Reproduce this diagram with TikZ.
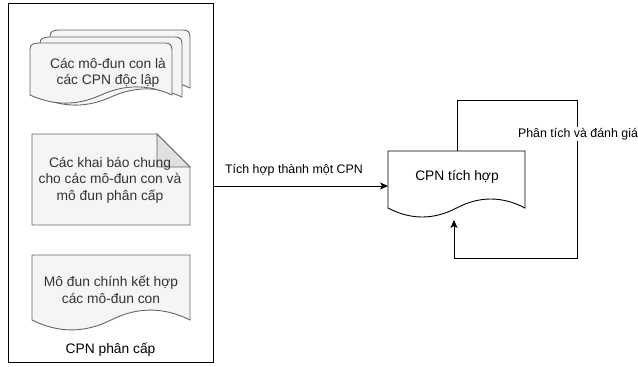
\documentclass[tikz,border=0pt]{standalone}
\usepackage{fontspec}
\setmainfont{Liberation Sans}
\usetikzlibrary{arrows.meta,calc}

\definecolor{sheetfill}{HTML}{F5F5F5}
\definecolor{sheetline}{HTML}{666666}
\definecolor{foldfill}{HTML}{E0E0E0}
\definecolor{txtgray}{HTML}{333333}

% Document outline with a wavy bottom edge: #2,#3 top-left, #4 width, #5 height, #6 wave depth
\newcommand{\wavedoc}[6][]{%
  \draw[#1] ({#2},{#3+#5-#6/2}) -- ({#2},{#3}) -- ({#2+#4},{#3}) -- ({#2+#4},{#3+#5-#6/2})
    .. controls ({#2+5*#4/6},{#3+#5-1.1*#6}) and ({#2+2*#4/3},{#3+#5-1.1*#6}) .. ({#2+#4/2},{#3+#5-#6/2})
    .. controls ({#2+#4/3},{#3+#5+0.1*#6}) and ({#2+#4/6},{#3+#5+0.1*#6}) .. cycle;}

% Same outline with softly rounded top corners (stacked pages)
\newcommand{\pagedoc}[6][]{%
  \draw[#1] ({#2},{#3+#5-#6/2}) -- ({#2},{#3+6})
    .. controls ({#2},{#3+2}) and ({#2+3},{#3}) .. ({#2+9},{#3}) -- ({#2+#4-7},{#3})
    .. controls ({#2+#4-2},{#3}) and ({#2+#4},{#3+2}) .. ({#2+#4},{#3+7}) -- ({#2+#4},{#3+#5-#6/2})
    .. controls ({#2+5*#4/6},{#3+#5-1.1*#6}) and ({#2+2*#4/3},{#3+#5-1.1*#6}) .. ({#2+#4/2},{#3+#5-#6/2})
    .. controls ({#2+#4/3},{#3+#5+0.1*#6}) and ({#2+#4/6},{#3+#5+0.1*#6}) .. cycle;}

\tikzset{
  graysheet/.style={draw=sheetline, fill=sheetfill, line width=0.9pt},
  plainsheet/.style={draw=black, fill=white, line width=0.9pt},
  boxtext/.style={font=\fontsize{13.8}{16.5}\selectfont, text=txtgray, align=center, inner sep=0pt},
  edgetext/.style={font=\fontsize{12.4}{15}\selectfont, text=black, inner sep=1pt},
  link/.style={draw=black, line width=0.9pt, -{Stealth[length=8pt,width=7pt,inset=2pt]}},
}

\begin{document}
\begin{tikzpicture}[x=1pt, y=-1pt, line join=miter]
\useasboundingbox (0,0) rectangle (638,367);

% outer frame of the hierarchical CPN
\node[draw=black, line width=0.9pt, minimum width=205pt, minimum height=359pt, inner sep=0pt]
  (frame) at (110.5,182.5) {};

% stacked pages: independent sub-modules
\pagedoc[graysheet]{50}{30}{140}{67}{18}
\pagedoc[graysheet]{40}{37}{142}{69}{18}
\pagedoc[graysheet]{30}{43}{142}{61}{18}
\node[boxtext] (submods) at (108,73) {Các mô-đun con là\\các CPN độc lập};

% note with folded corner: shared declarations
\draw[graysheet] (32,134) -- (157,134) -- (190,167) -- (190,225) -- (32,225) -- cycle;
\draw[draw=sheetline, fill=foldfill, line width=0.9pt] (157,134) -- (157,167) -- (190,167) -- cycle;
\node[boxtext] (decls) at (110,180) {Các khai báo chung\\cho các mô-đun con và\\mô đun phân cấp};

% main module document
\wavedoc[graysheet]{32}{255}{158}{76}{22}
\node[boxtext] (mainmod) at (111,290) {Mô đun chính kết hợp\\các mô-đun con};

\node[boxtext, text=black] (frametitle) at (110.5,350) {CPN phân cấp};

% integrated CPN document
\wavedoc[plainsheet]{388}{151}{137}{67}{20}
\node[boxtext, text=black] (integ) at (457,177) {CPN tích hợp};
\coordinate (integIn) at (388,186);
\coordinate (integTop) at (457,151);
\coordinate (integBot) at (454,220);
\coordinate (loopA) at (577,100);
\coordinate (loopB) at (577,258);

% flattening step
\draw[link] (frame.east |- integIn) -- (integIn);
\node[edgetext] (flatlbl) at (294,170) {Tích hợp thành một CPN};

% analysis loop
\draw[link] (integTop) |- (loopA) -- (loopB) -| (integBot);
\node[edgetext, fill=white, inner sep=1.5pt] (analysis) at (578,134) {Phân tích và đánh giá};
\end{tikzpicture}
\end{document}
